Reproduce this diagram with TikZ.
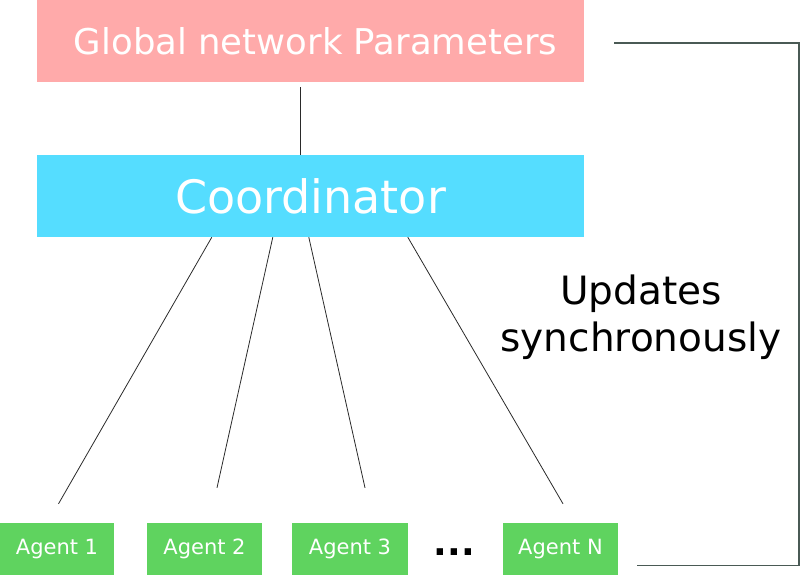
\documentclass[tikz,border=0pt]{standalone}
\usepackage{fontspec}
\setmainfont{DejaVu Sans}
\usetikzlibrary{calc}
\definecolor{pinkbox}{HTML}{FFAAAA}
\definecolor{cyanbox}{HTML}{55DDFF}
\definecolor{greenbox}{HTML}{5FD35F}
\definecolor{bracketcol}{HTML}{4A5A55}
\definecolor{linecol}{HTML}{2A2A2A}
\tikzset{
  bigbox/.style={fill=#1, draw=none, minimum width=547pt, minimum height=82pt, inner sep=0pt, text=white},
  agentbox/.style={fill=greenbox, draw=none, minimum height=52pt, inner sep=0pt, text=white, font=\fontsize{21}{25}\selectfont},
  link/.style={draw=linecol, line width=0.8pt},
  bracket/.style={draw=bracketcol, line width=1.3pt},
}
\begin{document}
\begin{tikzpicture}[x=1pt,y=-1pt]
\useasboundingbox (0,0) rectangle (800,575);
\node[bigbox=pinkbox, font=\fontsize{35.5}{42}\selectfont] (glob) at (310.5,41) {\hspace*{10pt}Global network Parameters};
\node[bigbox=cyanbox, font=\fontsize{46}{55}\selectfont] (coord) at (310.5,196) {Coordinator};
\node[agentbox, minimum width=114pt] (ag1) at (57,549) {Agent 1};
\node[agentbox, minimum width=115pt] (ag2) at (204.5,549) {Agent 2};
\node[agentbox, minimum width=116pt] (ag3) at (350,549) {Agent 3};
\node[agentbox, minimum width=115pt] (agN) at (560.5,549) {Agent N};
\node[font=\bfseries\fontsize{36}{40}\selectfont, inner sep=0pt] (dots) at (454.5,552) {...};
\node[font=\fontsize{39}{47}\selectfont, align=center, inner sep=0pt] (upd) at (641,317) {Updates\\synchronously};
% connectors
\draw[link] ($(glob.south west)+(264,5)$) -- ($(coord.north west)+(264,0)$);
\draw[link] ($(coord.south west)+(175,0)$) -- ($(ag1.north)+(1.5,-19)$);
\draw[link] ($(coord.south west)+(236,0)$) -- ($(ag2.north)+(12.5,-35)$);
\draw[link] ($(coord.south west)+(272,0)$) -- ($(ag3.north)+(15,-35)$);
\draw[link] ($(coord.south west)+(371,0)$) -- ($(agN.north)+(2.5,-19)$);
% bracket
\coordinate (bTop) at ($(glob.east)+(30,2)$);
\coordinate (bBot) at ($(agN.east)+(19,16.5)$);
\draw[bracket] (bTop) -- (799,43) -- (799,565.5) -- (bBot);
\end{tikzpicture}
\end{document}
